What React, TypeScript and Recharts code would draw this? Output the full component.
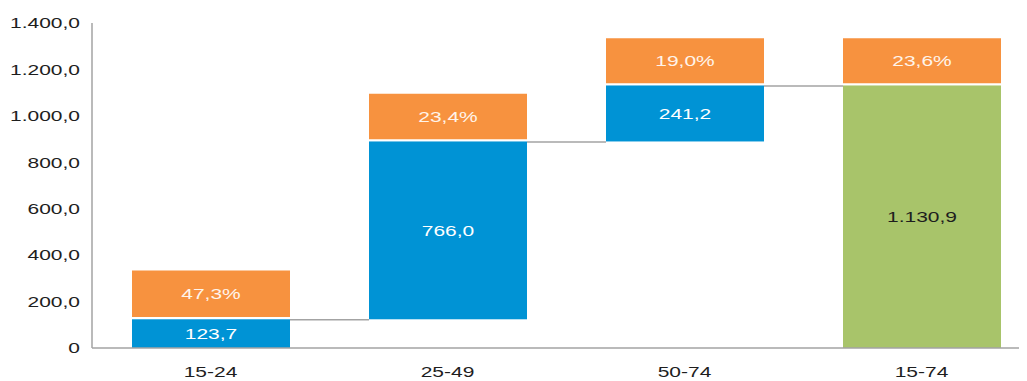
import { Bar, BarChart, Cell, LabelList, XAxis, YAxis } from 'recharts'

// Waterfall of values per age group, with the rate shown in a box above each column
const AGE_GROUPS = ['15-24', '25-49', '50-74', '15-74']
const BASES = [0, 123.7, 889.7, 0]
const VALUES = [123.7, 766.0, 241.2, 1130.9]
const RATES = [47.3, 23.4, 19.0, 23.6]
const RATE_BOX = [200, 195, 193, 193]
const Y_TICKS = [0, 200, 400, 600, 800, 1000, 1200, 1400]

const GAP = 10
const BLUE = '#0093d5'
const GREEN = '#a8c46a'
const ORANGE = '#f7923f'
const AXIS = '#a3a3a3'
const INK = '#1e1e1e'

const CHART_W = 1032
const CHART_H = 373
const Y_AXIS_W = 84
const BAR_W = 158
const BAND = (CHART_W - Y_AXIS_W) / AGE_GROUPS.length
const STRETCH = 1.4

const fmt = (v: number): string => {
  if (v === 0) return '0'
  const [i, d] = v.toFixed(1).split('.')
  return `${i.replace(/\B(?=(\d{3})+(?!\d))/g, '.')},${d}`
}

const data = AGE_GROUPS.map((g, i) => ({
  group: g,
  base: BASES[i],
  value: VALUES[i],
  gap: GAP,
  box: RATE_BOX[i],
  rate: RATES[i],
}))

// the labels use a wide, horizontally stretched face
const WideText = ({
  x,
  y,
  anchor = 'middle',
  fill = INK,
  children,
}: {
  x: number
  y: number
  anchor?: 'start' | 'middle' | 'end'
  fill?: string
  children: string
}) => (
  <text
    transform={`translate(${x},${y}) scale(${STRETCH},1)`}
    textAnchor={anchor}
    dominantBaseline="central"
    fontSize={15}
    fill={fill}
  >
    {children}
  </text>
)

// value rect plus the connector running to the next column
const ValueShape = (props: any) => {
  const { x, y, width, height, fill, index } = props
  const last = index === AGE_GROUPS.length - 1
  return (
    <g>
      <rect x={x} y={y} width={width} height={height} fill={fill} />
      {!last && (
        <line
          x1={x + width}
          x2={x + BAND}
          y1={y + 0.5}
          y2={y + 0.5}
          stroke={AXIS}
          strokeWidth={1.5}
        />
      )}
    </g>
  )
}

const ValueLabel = (props: any) => {
  const { x, y, width, height, value, index } = props
  const total = index === AGE_GROUPS.length - 1
  return (
    <WideText x={x + width / 2} y={y + height / 2} fill={total ? INK : '#ffffff'}>
      {fmt(value)}
    </WideText>
  )
}

const RateLabel = (props: any) => {
  const { x, y, width, height, value } = props
  return (
    <WideText x={x + width / 2} y={y + height / 2} fill="#fff4ea">
      {`${fmt(Number(value))}%`}
    </WideText>
  )
}

const GroupTick = (props: any) => (
  <WideText x={props.x} y={props.y + 6}>
    {props.payload.value}
  </WideText>
)

const ValueTick = (props: any) => (
  <WideText x={props.x} y={props.y} anchor="end">
    {fmt(props.payload.value)}
  </WideText>
)

export default function App() {
  return (
    <div
      style={{
        width: 1019,
        height: CHART_H,
        overflow: 'hidden',
        fontFamily: '"Liberation Sans", Arial, sans-serif',
      }}
    >
      <BarChart
        width={CHART_W}
        height={CHART_H}
        data={data}
        margin={{ top: 15, right: 0, bottom: 3, left: 0 }}
        barSize={BAR_W}
      >
        <XAxis
          dataKey="group"
          axisLine={{ stroke: AXIS, strokeWidth: 1.5 }}
          tickLine={false}
          tickMargin={12}
          height={30}
          tick={GroupTick}
        />
        <YAxis
          width={Y_AXIS_W}
          domain={[0, 1400]}
          ticks={Y_TICKS}
          axisLine={{ stroke: AXIS, strokeWidth: 1.5 }}
          tickLine={false}
          tickMargin={6}
          tick={ValueTick}
        />
        <Bar dataKey="base" stackId="w" fill="transparent" isAnimationActive={false} />
        <Bar dataKey="value" stackId="w" shape={ValueShape} isAnimationActive={false}>
          {data.map((d, i) => (
            <Cell key={d.group} fill={i === AGE_GROUPS.length - 1 ? GREEN : BLUE} />
          ))}
          <LabelList dataKey="value" content={ValueLabel} />
        </Bar>
        <Bar dataKey="gap" stackId="w" fill="transparent" isAnimationActive={false} />
        <Bar dataKey="box" stackId="w" fill={ORANGE} isAnimationActive={false}>
          <LabelList dataKey="rate" content={RateLabel} />
        </Bar>
      </BarChart>
    </div>
  )
}
